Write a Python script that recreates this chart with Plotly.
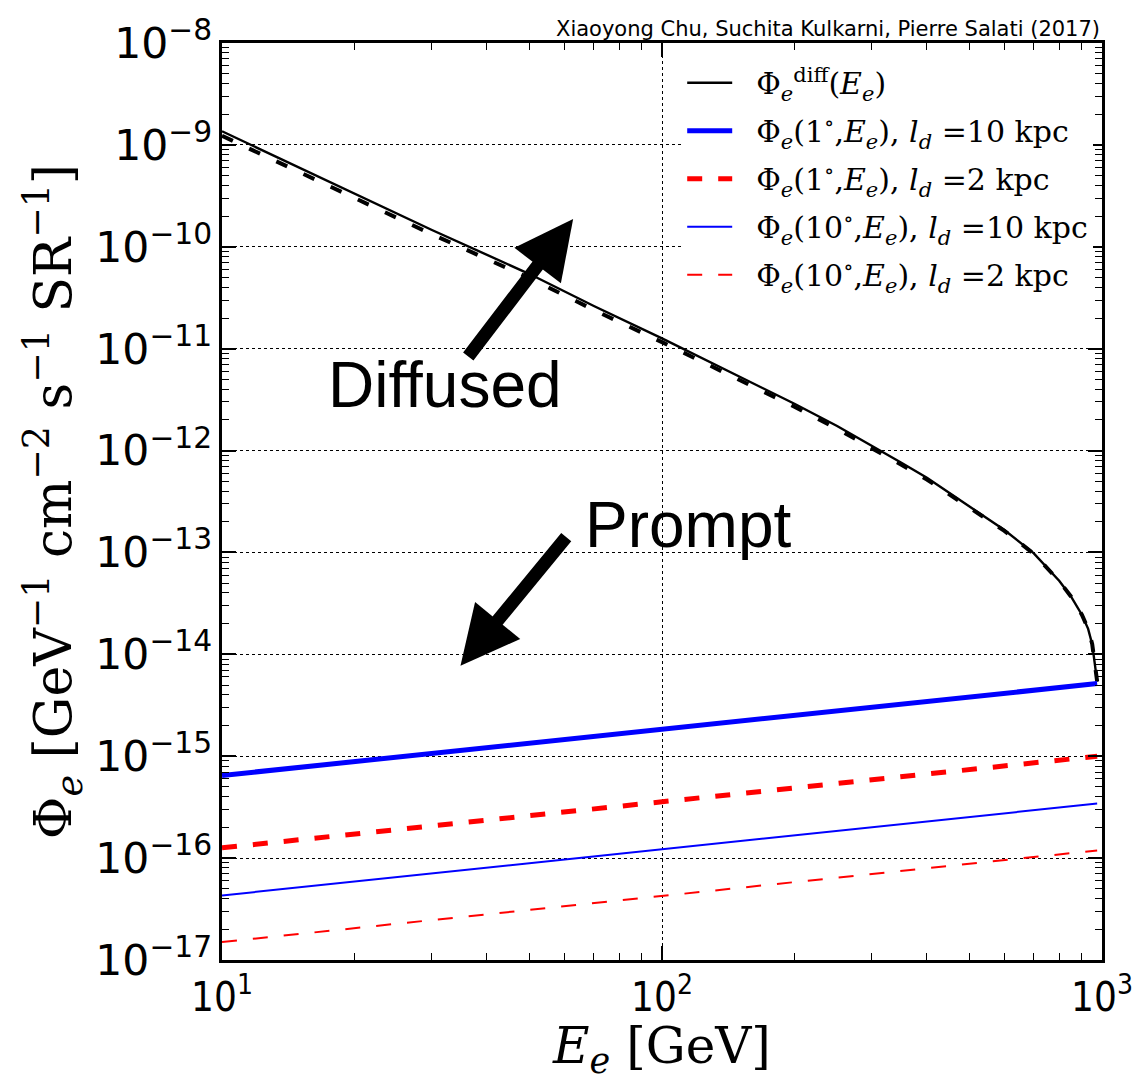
import plotly.graph_objects as go

# ---------------- data ----------------
energy_diff = [10, 20, 30, 50, 70, 100, 150, 200, 250, 300, 350, 400, 500, 600, 700, 800, 850, 900, 930, 950, 975]
phi_diff_solid = [1.36e-9, 3.33e-10, 1.46e-10, 5.4e-11, 2.62e-11, 1.26e-11, 5.37e-12, 2.88e-12,
                  1.74e-12, 1.12e-12, 7.6e-13, 5.4e-13, 2.82e-13, 1.66e-13, 9.8e-14, 5.25e-14,
                  3.7e-14, 2.45e-14, 1.78e-14, 1.26e-14, 5.4e-15]
phi_diff_dashed = [1.227e-9, 3.02e-10, 1.326e-10, 4.92e-11, 2.40e-11, 1.159e-11, 4.98e-12, 2.69e-12,
                   1.635e-12, 1.06e-12, 7.26e-13, 5.19e-13, 2.74e-13, 1.63e-13, 9.7e-14, 5.21e-14,
                   3.7e-14, 2.45e-14, 1.78e-14, 1.26e-14, 5.4e-15]

energy_prompt = [10, 975]
phi_1deg_10kpc = [6.47e-16, 5.16e-15]
phi_1deg_2kpc = [1.26e-16, 1.0e-15]
phi_10deg_10kpc = [4.3e-17, 3.43e-16]
phi_10deg_2kpc = [1.5e-17, 1.19e-16]

x_tickvals = [10, 100, 1000]
x_ticktext = ["10<sup>1</sup>", "10<sup>2</sup>", "10<sup>3</sup>"]

pad = "\u00a0\u00a0"
legend_names = [
    pad + "Φ<sub><i>e</i></sub><sup>diff</sup>(<i>E<sub>e</sub></i>)",
    pad + "Φ<sub><i>e</i></sub>(1<sup>∘</sup>,<i>E<sub>e</sub></i>), <i>l<sub>d</sub></i> =10 kpc",
    pad + "Φ<sub><i>e</i></sub>(1<sup>∘</sup>,<i>E<sub>e</sub></i>), <i>l<sub>d</sub></i> =2 kpc",
    pad + "Φ<sub><i>e</i></sub>(10<sup>∘</sup>,<i>E<sub>e</sub></i>), <i>l<sub>d</sub></i> =10 kpc",
    pad + "Φ<sub><i>e</i></sub>(10<sup>∘</sup>,<i>E<sub>e</sub></i>), <i>l<sub>d</sub></i> =2 kpc",
]

fig = go.Figure()

fig.add_trace(go.Scatter(x=energy_diff, y=phi_diff_dashed, mode="lines", showlegend=False,
                         legendgroup="g0", line=dict(color="black", width=4, dash="12px,18px")))
fig.add_trace(go.Scatter(x=energy_diff, y=phi_diff_solid, mode="lines", name=legend_names[0],
                         legendgroup="g0", line=dict(color="black", width=2.4)))
fig.add_trace(go.Scatter(x=energy_prompt, y=phi_1deg_10kpc, mode="lines", name=legend_names[1],
                         legendgroup="g1", line=dict(color="#0000ff", width=5)))
fig.add_trace(go.Scatter(x=energy_prompt, y=phi_1deg_2kpc, mode="lines", name=legend_names[2],
                         legendgroup="g2", line=dict(color="#ff0000", width=5, dash="15px,16px")))
fig.add_trace(go.Scatter(x=energy_prompt, y=phi_10deg_10kpc, mode="lines", name=legend_names[3],
                         legendgroup="g3", line=dict(color="#0000ff", width=2)))
fig.add_trace(go.Scatter(x=energy_prompt, y=phi_10deg_2kpc, mode="lines", name=legend_names[4],
                         legendgroup="g4", line=dict(color="#ff0000", width=2, dash="15px,16px")))

axis_common = dict(
    showline=True, linecolor="black", linewidth=3, mirror="ticks",
    ticks="inside", ticklen=14, tickwidth=1.5, tickcolor="black",
    showgrid=True, gridcolor="black", gridwidth=1, griddash="dot",
    zeroline=False,
    minor=dict(ticks="inside", ticklen=7, tickwidth=1.2, tickcolor="black", dtick="D1", showgrid=False),
)

fig.update_xaxes(
    type="log", range=[1, 3], tickmode="array", tickvals=x_tickvals, ticktext=x_ticktext,
    tickfont=dict(family="DejaVu Sans Condensed, DejaVu Sans", size=40, color="black"),
    title=dict(text="<i>E<sub>e</sub></i> [GeV]", font=dict(family="DejaVu Serif", size=50, color="black"),
               standoff=6),
    **axis_common,
)
fig.update_yaxes(
    type="log", range=[-17, -8], dtick=1, exponentformat="power",
    tickfont=dict(family="DejaVu Sans", size=34, color="black"),
    title=dict(text="Φ<sub><i>e</i></sub> [GeV<sup>−1</sup> cm<sup>−2</sup> s<sup>−1</sup> SR<sup>−1</sup>]",
               font=dict(family="DejaVu Serif", size=52, color="black"), standoff=8),
    **axis_common,
)

fig.add_annotation(text="Diffused", xref="paper", yref="paper", x=0.253, y=0.627, showarrow=False,
                   xanchor="center", yanchor="middle",
                   font=dict(family="Liberation Sans, Arial", size=64, color="black"))
fig.add_annotation(text="Prompt", xref="paper", yref="paper", x=0.530, y=0.474, showarrow=False,
                   xanchor="center", yanchor="middle",
                   font=dict(family="Liberation Sans, Arial", size=64, color="black"))
fig.add_annotation(text="", xref="paper", yref="paper", x=0.399, y=0.808, ax=-106, ay=139,
                   showarrow=True, arrowhead=2, arrowwidth=13, arrowsize=0.9, arrowcolor="black")
fig.add_annotation(text="", xref="paper", yref="paper", x=0.271, y=0.321, ax=107, ay=-130,
                   showarrow=True, arrowhead=2, arrowwidth=13, arrowsize=0.9, arrowcolor="black")
fig.add_annotation(text="Xiaoyong Chu, Suchita Kulkarni, Pierre Salati (2017)", xref="paper", yref="paper",
                   x=1.0, y=1.0, xanchor="right", yanchor="bottom", yshift=0, showarrow=False,
                   font=dict(family="DejaVu Sans", size=21, color="black"))

fig.update_layout(
    width=1145, height=1081,
    margin=dict(l=222, r=34, t=36, b=121),
    paper_bgcolor="white", plot_bgcolor="white",
    legend=dict(x=0.99, y=0.985, xanchor="right", yanchor="top", bgcolor="white", borderwidth=0,
                font=dict(family="DejaVu Serif", size=30, color="black"), itemwidth=45,
                tracegroupgap=6, traceorder="grouped"),
    showlegend=True,
)

fig.write_html("out.html")
